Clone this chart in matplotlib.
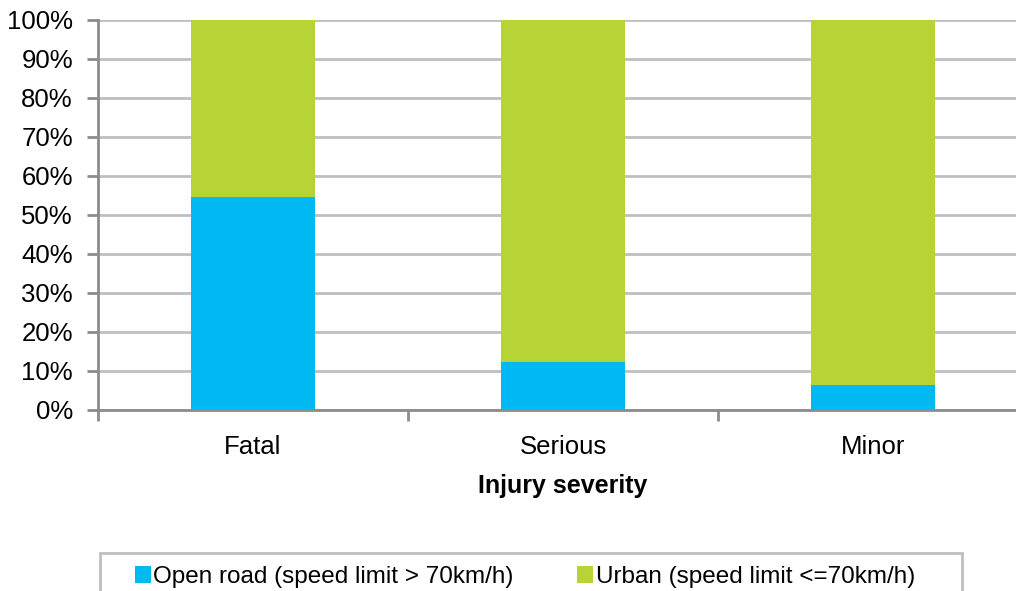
import matplotlib
matplotlib.use("Agg")
import matplotlib.pyplot as plt
from matplotlib.patches import Rectangle, Patch
import numpy as np

categories = ["Fatal", "Serious", "Minor"]
open_road = [54.4, 12.3, 6.3]
urban = [100 - v for v in open_road]
series_names = ["Open road (speed limit > 70km/h)", "Urban (speed limit <=70km/h)"]
yticks = list(range(0, 101, 10))
ytick_labels = [f"{v}%" for v in yticks]

BLUE = "#00B9F2"
GREEN = "#B6D436"
GRID = "#BFBFBF"
AXC = "#8C8C8C"

plt.rcParams['font.family'] = ['Liberation Sans', 'DejaVu Sans']

W, H = 1016, 591
fig = plt.figure(figsize=(W / 100, H / 100), dpi=100)
x0, x1 = 98, 1028
y0, y1 = 409.5, 19.5
ax = fig.add_axes([x0 / W, 1 - y0 / H, (x1 - x0) / W, (y0 - y1) / H])

x = np.arange(len(categories))
ax.bar(x, open_road, width=0.4, color=BLUE, zorder=3)
ax.bar(x, urban, width=0.4, bottom=open_road, color=GREEN, zorder=3)

ax.set_xlim(-0.5, len(categories) - 0.5)
ax.set_ylim(0, 100)
ax.set_yticks(yticks)
ax.set_yticklabels(ytick_labels, fontsize=18.5)
ax.yaxis.grid(True, color=GRID, linewidth=2, zorder=0)
ax.set_axisbelow(True)

ax.set_xticks(x)
ax.set_xticklabels(categories, fontsize=18.5)
ax.tick_params(axis='x', which='major', length=0, pad=18)
ax.set_xticks(np.arange(-0.5, len(categories) + 0.5, 1), minor=True)
ax.tick_params(axis='x', which='minor', length=8, width=2, color=AXC, direction='out')
ax.tick_params(axis='y', length=8, width=2, color=AXC, direction='out', pad=10)

for s in ['top', 'right']:
    ax.spines[s].set_visible(False)
for s in ['left', 'bottom']:
    ax.spines[s].set_color(AXC)
    ax.spines[s].set_linewidth(2)
ax.spines['bottom'].set_zorder(4)

ax.set_xlabel("Injury severity", fontsize=18, fontweight='bold', labelpad=11)

# legend frame
fig.patches.append(Rectangle((100 / W, 1 - 600 / H), 862 / W, 47 / H,
                             transform=fig.transFigure, fill=False,
                             edgecolor=GRID, linewidth=2))
handles = [Patch(facecolor=BLUE, edgecolor='none'), Patch(facecolor=GREEN, edgecolor='none')]
fig.legend(handles, series_names, loc='center left',
           bbox_to_anchor=(135 / W, 1 - 577 / H), ncol=2, frameon=False,
           fontsize=17.5, borderpad=0, borderaxespad=0,
           handlelength=0.66, handleheight=0.66, handletextpad=0.1,
           columnspacing=2.6)

fig.savefig("out.png", dpi=100)
